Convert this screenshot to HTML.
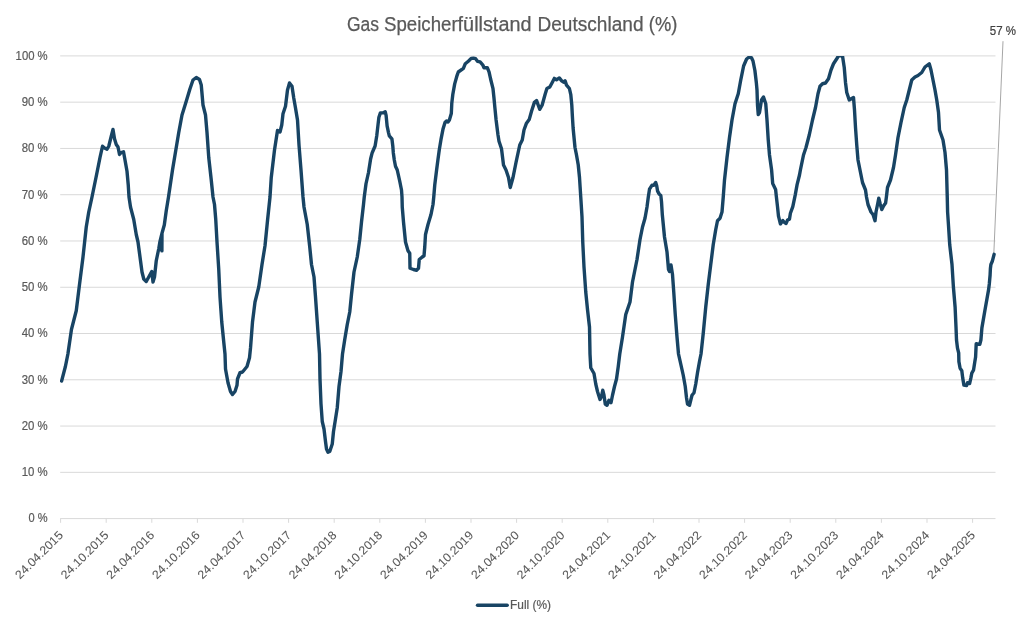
<!DOCTYPE html>
<html lang="de"><head><meta charset="utf-8"><title>Gas Speicherfüllstand Deutschland (%)</title>
<style>
html,body{margin:0;padding:0;background:#fff;}
body{width:1024px;height:627px;overflow:hidden;font-family:"Liberation Sans",sans-serif;}
svg{display:block;}
text{font-family:"Liberation Sans",sans-serif;}
.txt{filter:grayscale(1);}
.ax{font-size:12px;fill:#595959;stroke:#595959;stroke-width:0.2px;}
.ttl{font-size:19.6px;fill:#595959;stroke:#595959;stroke-width:0.25px;}
</style></head><body>
<svg width="1024" height="627" viewBox="0 0 1024 627">
<defs><clipPath id="plot"><rect x="60.3" y="56.2" width="937" height="464"/></clipPath></defs>
<rect width="1024" height="627" fill="#ffffff"/>

<g stroke="#D9D9D9" stroke-width="1" fill="none">
<line x1="60.2" y1="55.90" x2="995.5" y2="55.90"/>
<line x1="60.2" y1="102.17" x2="995.5" y2="102.17"/>
<line x1="60.2" y1="148.44" x2="995.5" y2="148.44"/>
<line x1="60.2" y1="194.71" x2="995.5" y2="194.71"/>
<line x1="60.2" y1="240.98" x2="995.5" y2="240.98"/>
<line x1="60.2" y1="287.25" x2="995.5" y2="287.25"/>
<line x1="60.2" y1="333.52" x2="995.5" y2="333.52"/>
<line x1="60.2" y1="379.79" x2="995.5" y2="379.79"/>
<line x1="60.2" y1="426.06" x2="995.5" y2="426.06"/>
<line x1="60.2" y1="472.33" x2="995.5" y2="472.33"/>
<line x1="60.2" y1="518.60" x2="995.5" y2="518.60"/>
<line x1="60.60" y1="518.60" x2="60.60" y2="522.80"/>
<line x1="106.20" y1="518.60" x2="106.20" y2="522.80"/>
<line x1="151.80" y1="518.60" x2="151.80" y2="522.80"/>
<line x1="197.40" y1="518.60" x2="197.40" y2="522.80"/>
<line x1="243.00" y1="518.60" x2="243.00" y2="522.80"/>
<line x1="288.60" y1="518.60" x2="288.60" y2="522.80"/>
<line x1="334.20" y1="518.60" x2="334.20" y2="522.80"/>
<line x1="379.80" y1="518.60" x2="379.80" y2="522.80"/>
<line x1="425.40" y1="518.60" x2="425.40" y2="522.80"/>
<line x1="471.00" y1="518.60" x2="471.00" y2="522.80"/>
<line x1="516.60" y1="518.60" x2="516.60" y2="522.80"/>
<line x1="562.20" y1="518.60" x2="562.20" y2="522.80"/>
<line x1="607.80" y1="518.60" x2="607.80" y2="522.80"/>
<line x1="653.40" y1="518.60" x2="653.40" y2="522.80"/>
<line x1="699.00" y1="518.60" x2="699.00" y2="522.80"/>
<line x1="744.60" y1="518.60" x2="744.60" y2="522.80"/>
<line x1="790.20" y1="518.60" x2="790.20" y2="522.80"/>
<line x1="835.80" y1="518.60" x2="835.80" y2="522.80"/>
<line x1="881.40" y1="518.60" x2="881.40" y2="522.80"/>
<line x1="927.00" y1="518.60" x2="927.00" y2="522.80"/>
<line x1="972.60" y1="518.60" x2="972.60" y2="522.80"/>
</g>
<g class="txt">
<g class="ax" text-anchor="end">
<text x="47.7" y="60.00" textLength="32.1" lengthAdjust="spacingAndGlyphs">100 %</text>
<text x="47.7" y="106.22" textLength="26" lengthAdjust="spacingAndGlyphs">90 %</text>
<text x="47.7" y="152.44" textLength="26" lengthAdjust="spacingAndGlyphs">80 %</text>
<text x="47.7" y="198.66" textLength="26" lengthAdjust="spacingAndGlyphs">70 %</text>
<text x="47.7" y="244.88" textLength="26" lengthAdjust="spacingAndGlyphs">60 %</text>
<text x="47.7" y="291.10" textLength="26" lengthAdjust="spacingAndGlyphs">50 %</text>
<text x="47.7" y="337.32" textLength="26" lengthAdjust="spacingAndGlyphs">40 %</text>
<text x="47.7" y="383.54" textLength="26" lengthAdjust="spacingAndGlyphs">30 %</text>
<text x="47.7" y="429.76" textLength="26" lengthAdjust="spacingAndGlyphs">20 %</text>
<text x="47.7" y="475.98" textLength="26" lengthAdjust="spacingAndGlyphs">10 %</text>
<text x="47.7" y="522.20" textLength="19.1" lengthAdjust="spacingAndGlyphs">0 %</text>
</g>
<g class="ax" text-anchor="end" style="stroke-width:0.06px">
<text transform="translate(63.80,536.0) rotate(-45)" textLength="61.8" lengthAdjust="spacingAndGlyphs">24.04.2015</text>
<text transform="translate(109.40,536.0) rotate(-45)" textLength="61.8" lengthAdjust="spacingAndGlyphs">24.10.2015</text>
<text transform="translate(155.00,536.0) rotate(-45)" textLength="61.8" lengthAdjust="spacingAndGlyphs">24.04.2016</text>
<text transform="translate(200.60,536.0) rotate(-45)" textLength="61.8" lengthAdjust="spacingAndGlyphs">24.10.2016</text>
<text transform="translate(246.20,536.0) rotate(-45)" textLength="61.8" lengthAdjust="spacingAndGlyphs">24.04.2017</text>
<text transform="translate(291.80,536.0) rotate(-45)" textLength="61.8" lengthAdjust="spacingAndGlyphs">24.10.2017</text>
<text transform="translate(337.40,536.0) rotate(-45)" textLength="61.8" lengthAdjust="spacingAndGlyphs">24.04.2018</text>
<text transform="translate(383.00,536.0) rotate(-45)" textLength="61.8" lengthAdjust="spacingAndGlyphs">24.10.2018</text>
<text transform="translate(428.60,536.0) rotate(-45)" textLength="61.8" lengthAdjust="spacingAndGlyphs">24.04.2019</text>
<text transform="translate(474.20,536.0) rotate(-45)" textLength="61.8" lengthAdjust="spacingAndGlyphs">24.10.2019</text>
<text transform="translate(519.80,536.0) rotate(-45)" textLength="61.8" lengthAdjust="spacingAndGlyphs">24.04.2020</text>
<text transform="translate(565.40,536.0) rotate(-45)" textLength="61.8" lengthAdjust="spacingAndGlyphs">24.10.2020</text>
<text transform="translate(611.00,536.0) rotate(-45)" textLength="61.8" lengthAdjust="spacingAndGlyphs">24.04.2021</text>
<text transform="translate(656.60,536.0) rotate(-45)" textLength="61.8" lengthAdjust="spacingAndGlyphs">24.10.2021</text>
<text transform="translate(702.20,536.0) rotate(-45)" textLength="61.8" lengthAdjust="spacingAndGlyphs">24.04.2022</text>
<text transform="translate(747.80,536.0) rotate(-45)" textLength="61.8" lengthAdjust="spacingAndGlyphs">24.10.2022</text>
<text transform="translate(793.40,536.0) rotate(-45)" textLength="61.8" lengthAdjust="spacingAndGlyphs">24.04.2023</text>
<text transform="translate(839.00,536.0) rotate(-45)" textLength="61.8" lengthAdjust="spacingAndGlyphs">24.10.2023</text>
<text transform="translate(884.60,536.0) rotate(-45)" textLength="61.8" lengthAdjust="spacingAndGlyphs">24.04.2024</text>
<text transform="translate(930.20,536.0) rotate(-45)" textLength="61.8" lengthAdjust="spacingAndGlyphs">24.10.2024</text>
<text transform="translate(975.80,536.0) rotate(-45)" textLength="61.8" lengthAdjust="spacingAndGlyphs">24.04.2025</text>
</g>
<g class="ttl">
<text x="347.0" y="30.7" textLength="32.0" lengthAdjust="spacingAndGlyphs">Gas</text>
<text x="384.0" y="30.7" textLength="73.6" lengthAdjust="spacingAndGlyphs">Speicher</text>
<text x="457.6" y="30.7" textLength="73.9" lengthAdjust="spacingAndGlyphs">füllstand</text>
<text x="537.5" y="30.7" textLength="106.0" lengthAdjust="spacingAndGlyphs">Deutschland</text>
<text x="648.8" y="30.7" textLength="28.5" lengthAdjust="spacingAndGlyphs">(%)</text>
</g>
<text x="989.8" y="34.8" font-size="12" fill="#404040" stroke="#404040" stroke-width="0.2" textLength="26.2" lengthAdjust="spacingAndGlyphs">57 %</text>
<text x="510.0" y="609.3" class="ax" textLength="41" lengthAdjust="spacingAndGlyphs">Full (%)</text>
</g>
<line x1="1003" y1="41.2" x2="993.8" y2="254" stroke="#A6A6A6" stroke-width="1"/>
<polyline clip-path="url(#plot)" fill="none" stroke="#184464" stroke-width="3.4" stroke-linejoin="round" stroke-linecap="round" points="61.6,381 65.4,366.5 67.9,354 71.45,329.5 76.25,310.75 79.5,284.5 83,257 86.25,227 88.75,212 92,197 96.25,176.25 100,157.5 102.5,146.25 104.5,148 107,149.25 108.75,146.25 111.25,136.25 113,129.5 114.5,138.75 116.25,144.5 118,147 119.5,154.5 121.25,152.5 123.5,151.75 125,160 127,171.25 128.25,185 129,197 130.5,207 133.75,219.5 136.25,234.5 138,242 140,257 142,272 143.75,279 146.25,281.5 148.75,277 151.75,271.5 153,282 154.5,277 156.25,260.75 158.7,249 160,241.3 161.9,233.6 161.9,250.9 162,233.2 164.3,225 166.25,210.75 168.5,197 172.5,170 176.25,147.5 178.75,132.5 182,115 186.25,101.25 190,88.75 193,80 196.25,77.5 199.5,79.5 201.25,85 203,105 205.5,115 207,132.5 208.75,157.5 211.25,180 213,197 214.5,204.5 215.75,219.5 217,242 218.75,269.5 220,297 221.75,322 223.75,342 225,354 225.5,369 228,382.75 230.5,391.5 232.5,394.5 235,391.5 237,385.25 237.5,379 240,372.75 242.5,372 247,366.5 249.5,357.75 250.5,348 252.5,322 255,302 258.75,287 262,264.5 265,245.75 267.5,220.75 270,197 271.25,177.5 274.5,150 277.5,130.5 280,132 281.75,125 283,113.75 285.5,106.25 287.5,90 289.5,83 292,86.25 293.75,98 295.5,108 297.5,120 299,145 301,170 303,197 304,207 307.25,224.5 309.75,247 311.5,264.5 314,277 315.5,297 317.25,322 319,347 319.5,354 320,379 321,404 322.25,421.5 324,429 325.5,441.5 326.5,449 328,452.25 329.75,451.5 332.25,444 333.5,431.5 335.5,419 337.25,407.75 339,386.5 341,371.5 342.5,354 344.75,339.5 347.25,324.5 349.75,312 351.5,294.5 354,272 357.25,257 359.75,239.5 361.5,222 363.5,204.5 364.25,197 366,183.75 368.5,172.5 370.6,159 372.2,152.7 375.1,146 376.8,135.4 378,124.9 378.9,117.2 380.4,112.9 382.8,112.9 385.2,111.7 386.1,115.3 387.1,125.9 388.5,132.6 389.3,135.9 391.9,138.8 392.8,146 393.3,152.7 394.3,160 395.5,166.25 397.25,170 399.75,181.25 401.5,190 402,197 402.25,207 403.5,222 405.5,242 408,250.75 409.75,253.25 410,268.25 413.5,269.5 416.5,270.25 418.5,268.25 419.25,259.5 422.25,257 424,255.75 424.75,247 425.5,234.5 428,224.5 431,214.5 433,204.5 433.75,197 434.75,185 436.6,170 437.9,160 439.3,149.8 441.2,138.3 443.1,128.7 445,122.5 446.5,121 448,122 449.4,120 451.3,113.6 451.8,103.1 452.8,94.5 454.7,83.9 457.1,75.3 458.3,72 463.4,68.3 465.3,63.7 468.6,61 471.2,58.4 473.4,58.1 475.6,58.7 477.5,61.3 480.1,61.9 482.7,64.8 484,67.7 487.3,67.7 489.1,72.2 490.6,79 493,88.7 494,98.3 494.9,107.9 496.1,120 498,135 499,141.25 501.5,148.75 503.5,165 506,170 508.5,177.5 510.25,187.5 513,177.5 516,162.5 519.75,145 522.25,140 524,130 526.3,123.6 529.2,119.6 531.6,111 534.4,102.4 536.6,100.6 539.7,109.3 542.1,105.2 545,94.7 546.9,88.5 549.8,87 552.1,82.7 554.3,78.4 556.5,79.8 559.3,77.9 561.7,80.8 563.6,82.2 565.1,80.8 566.5,85.1 569.4,88.5 570.8,94.7 571.8,105.2 572.3,114.8 573.1,128 575,147.5 576.5,155 578.25,165 579.5,177.5 580.75,197 582,217 582.75,242 584,267 585.75,292 587.5,309.5 589.5,327 590,354 590.75,367.75 594,373.5 595.75,384 597.5,391.5 600,399.5 601.5,396.5 602.75,390.25 604,395.25 605.25,404 607,405.25 609,400.25 611,402.75 612.5,395.25 614.5,386.5 616.5,379 618.25,366.5 619.75,354 622.5,337 625.75,314.5 630,302 632.5,282 637,259.5 640,239.5 642.5,227 645,218.25 647,207 648.3,197 649.5,189.2 651.9,185.3 653.8,185.3 655.7,182.5 656.7,185.8 657.6,191.1 659.1,193.9 660.8,195.4 661.5,201.6 662.3,214.5 664.5,237 667,252 668.5,269.5 669.5,271.5 671,265 672.5,274.5 673.75,292 675.25,314.5 677,337 678.5,354 680.75,364 683.25,375.25 685.25,386.5 686.5,397.75 687.5,404 689.5,405.25 690.75,400.25 692,395.25 694,392.75 695.75,384 697.5,372.75 699.5,361.5 701,354 703.25,333.25 705.75,307 708.25,284.5 710.75,264.5 713.25,244.5 715.75,229.5 717.5,220.75 720,218.25 722,212 723.25,197 724.5,180 727,157.5 729.5,137.5 732,120 735,103.75 738.25,93.75 740.75,80 743.6,66 746.6,59 748.5,57.5 750,57.2 751.5,57.8 753,61 754.9,70.5 756.4,83.3 757,90 757.5,105 758.25,114.5 759.5,112.5 761.5,100 763.5,97 765.75,103.75 767,120 768.25,140 769.5,155 771.6,170 772.7,183.6 775.6,189.4 776.3,196.1 777.5,206.6 778.5,216.2 780.4,223.9 782.8,220.5 784.5,222.5 786.1,223.4 787.6,220 789.5,219.1 790.4,213.3 792.8,206.6 795.2,195.1 797.1,184.6 799.5,175 800.4,170 803.5,155 806,147.5 809.25,135 812.5,120 815.5,107.5 818,93.75 820,86.25 822.5,83.75 825.5,83 828.5,78.75 831,70 833.5,63.75 836.75,58.75 838.5,55.9 842.5,55.9 844.25,67.5 845.5,82.5 846.75,92.5 849.25,100 851.25,98.75 853.5,97.5 854.5,110 855.5,127.5 856.75,145 858,160 860.5,172.5 862.5,182.5 865.5,190 866.5,197 868,204.5 871,212 873,214.5 875,220.75 876,212 877.8,203.25 878.8,198.2 880.2,204 881.8,209.6 883.5,206 885.6,203 886.4,197 887.5,187.5 890.5,180 893.5,167.5 895.5,155 898,137.5 901,122.5 904.25,107.5 906.75,100 909.25,90 911.75,80 915,77 918,75.5 921.75,72.5 925,67 929.25,63.75 931,70 933,80 935,90 936.75,100 938.5,112.5 939.5,130 943,140 945,152.5 946.5,170 947.25,197 947.6,212 948.6,227 949.7,244.5 952,264.5 953.4,287 955.1,307 956,327 956.5,340 957.5,348.2 958.7,353 958.9,361.6 960.1,368.3 961.8,370.7 962.7,377.9 963.9,385.1 966.6,385.6 967.5,382.7 969.6,383.6 970.9,377.9 971.8,373.1 973.5,370.2 974.7,362.6 975.6,357 976.2,343.8 979.8,344.4 980.9,340 981.9,327.9 985.2,308.7 988.6,289.6 989.3,284 990.1,275 990.4,268.5 990.9,264.5 992.3,261.3 994.1,254.3"/>
<line x1="477.5" y1="605.2" x2="507.2" y2="605.2" stroke="#184464" stroke-width="3.4" stroke-linecap="round"/>
</svg></body></html>
